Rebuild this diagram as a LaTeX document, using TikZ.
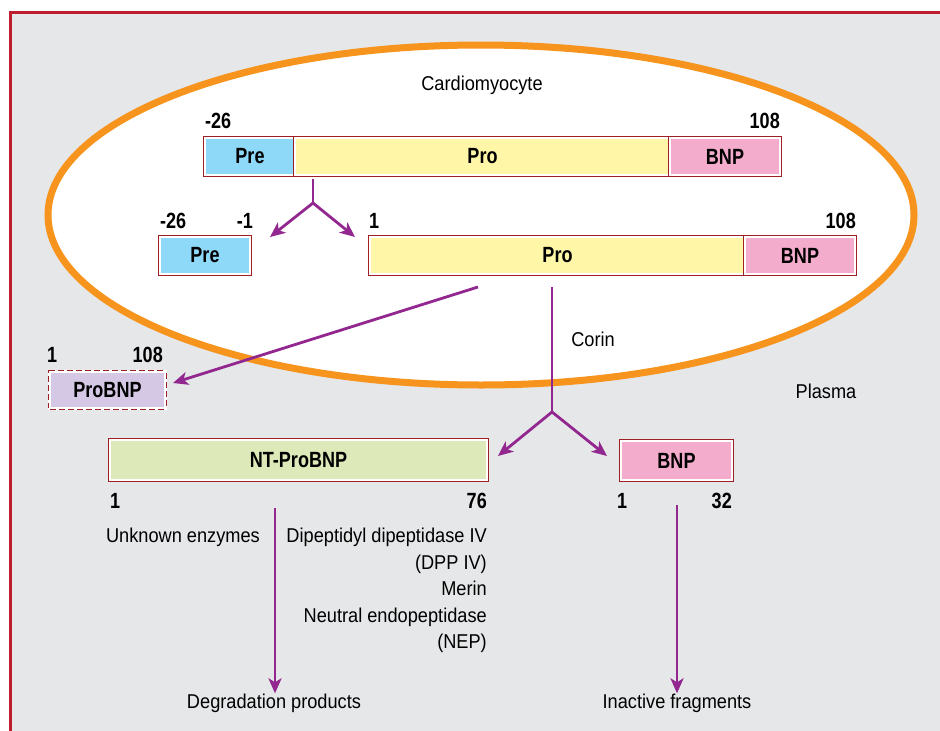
\documentclass[tikz,border=0pt]{standalone}
\usepackage{fontspec}
\setmainfont{Liberation Sans}[FakeStretch=0.91]
\newfontfamily\segfont{Liberation Sans}[FakeStretch=0.82]
\usetikzlibrary{positioning,arrows.meta}
\definecolor{framered}{HTML}{BE1E2D}
\definecolor{plasmagray}{HTML}{E6E7E8}
\definecolor{wallorange}{HTML}{F7941E}
\definecolor{boxred}{HTML}{9E1F24}
\definecolor{linkpurple}{HTML}{92278F}
\definecolor{preblue}{HTML}{8ED8F8}
\definecolor{proyellow}{HTML}{FFF6A8}
\definecolor{bnppink}{HTML}{F4ACCD}
\definecolor{probnplilac}{HTML}{D5C8E4}
\definecolor{ntgreen}{HTML}{DDE9B8}
\newcommand{\txtsize}{\fontsize{20}{26.5}\selectfont}
\newcommand{\numsize}{\segfont\bfseries\fontsize{22}{26}\selectfont}

\begin{document}
\begin{tikzpicture}[x=1pt, y=-1pt,
  seg/.style={fill=#1, draw=white, line width=2pt,
    preaction={draw=boxred, line width=4.6pt},
    minimum height=37pt, inner sep=0pt, outer sep=0pt, font=\numsize},
  dashseg/.style={fill=#1, draw=white, line width=2pt,
    preaction={draw=white, line width=4.6pt},
    preaction={draw=boxred, line width=4.6pt, dash pattern=on 6pt off 3pt},
    minimum height=36pt, inner sep=0pt, outer sep=0pt, font=\numsize},
  num/.style={font=\numsize, inner sep=0pt},
  txt/.style={font=\txtsize, inner sep=0pt},
  stem/.style={draw=linkpurple, line width=2.8pt},
  link/.style={stem, -{Stealth[length=15pt, width=13pt, inset=4pt]}}]

\useasboundingbox (0,0) rectangle (940,731);
\fill[plasmagray] (10,12) rectangle (945,740);
\draw[framered, line width=3pt] (10,740) -- (10,12) -- (945,12);

\draw[wallorange, line width=7pt, fill=white] (481,215) ellipse [x radius=433, y radius=170];
\node[txt] (cell) at (482,85) {Cardiomyocyte};

% precursor
\node[seg=preblue, minimum width=90pt, anchor=north west] (preA) at (205,138) {Pre};
\node[seg=proyellow, minimum width=375pt, right=0pt of preA] (proA) {Pro};
\node[seg=bnppink, minimum width=110pt, right=0pt of proA] (bnpA) {BNP};
\node[num, anchor=base west] (nA1) at (205,128) {-26};
\node[num, anchor=base east] (nA2) at (780,128) {108};

% signal peptide removed
\node[seg=preblue, minimum width=90pt, anchor=north west] (preB) at (160,237) {Pre};
\node[seg=proyellow, minimum width=375pt, anchor=north west] (proB) at (370,237) {Pro};
\node[seg=bnppink, minimum width=110pt, right=0pt of proB] (bnpB) {BNP};
\node[num, anchor=base west] (nB1) at (160,228) {-26};
\node[num, anchor=base east] (nB2) at (253,228) {-1};
\node[num, anchor=base west] (nB3) at (369,228) {1};
\node[num, anchor=base east] (nB4) at (856,228) {108};

\coordinate (sA) at (313,179);
\coordinate (jA) at (313,203);
\draw[stem] (sA) -- (jA);
\draw[link] (jA) -- (270,237);
\draw[link] (jA) -- (355,237);

% proBNP released
\node[dashseg=probnplilac, minimum width=115pt, anchor=north west] (probnp) at (50,372) {ProBNP};
\node[num, anchor=base west] (nP1) at (47,362) {1};
\node[num, anchor=base east] (nP2) at (163,362) {108};
\coordinate (sP) at (478,287);
\draw[link] (sP) -- ([shift={(8,-7)}]probnp.east);

% corin cleavage
\coordinate (sC) at (552,287);
\coordinate (jC) at (552,412);
\draw[stem] (sC) -- (jC);
\node[txt] (corin) at (593,339) {Corin};
\node[txt] (plasma) at (826,391) {Plasma};

\node[seg=ntgreen, minimum width=377pt, minimum height=40pt, anchor=north west] (ntpro) at (110,440) {NT-ProBNP};
\node[seg=bnppink, minimum width=111pt, minimum height=39pt, anchor=north west] (bnpC) at (621,441) {BNP};
\draw[link] (jC) -- (498,456);
\draw[link] (jC) -- (607,456);
\node[num, anchor=base west] (nN1) at (110,508) {1};
\node[num, anchor=base east] (nN2) at (487,508) {76};
\node[num, anchor=base west] (nC1) at (617,508) {1};
\node[num, anchor=base east] (nC2) at (732,508) {32};

% clearance
\node[txt, anchor=base east] (unknown) at (260,542) {Unknown enzymes};
\node[txt, anchor=north east, align=right] (enzymes) at (487,528)
  {Dipeptidyl dipeptidase IV\\(DPP IV)\\Merin\\Neutral endopeptidase\\(NEP)};
\node[txt, anchor=base] (degr) at (274,708) {Degradation products};
\node[txt, anchor=base] (inact) at (677,708) {Inactive fragments};
\coordinate (sN) at (275,508);
\coordinate (sB) at (677,505);
\draw[link] (sN) -- (degr.north -| sN);
\draw[link] (sB) -- (inact.north -| sB);

\end{tikzpicture}
\end{document}
